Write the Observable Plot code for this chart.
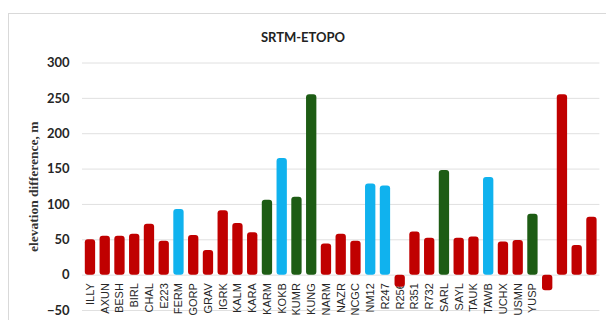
<!DOCTYPE html>
<html>
<head>
<meta charset="utf-8">
<script src="https://cdn.jsdelivr.net/npm/d3@7"></script>
<script src="https://cdn.jsdelivr.net/npm/@observablehq/plot@0.6"></script>
<style>
  html, body { margin: 0; padding: 0; background: #fff; }
  #wrap { position: relative; width: 606px; height: 320px; overflow: hidden; background: #fff; }
  #border { position: absolute; left: 8px; top: 13px; width: 700px; height: 400px;
            border-left: 1px solid #d9d9d9; border-top: 1px solid #d9d9d9; }
  #title { position: absolute; left: 0; top: 0; width: 606px; height: 50px; text-align: center;
           font-family: Lato, "Open Sans", sans-serif; font-weight: bold; font-size: 13px;
           color: #222; line-height: 74px; }
  #chart { position: absolute; left: 0; top: 50px; }
</style>
</head>
<body>
<div id="wrap">
  <div id="border"></div>
  <div id="title">SRTM-ETOPO</div>
  <div id="chart"></div>
</div>
<script>
const stations = ["ILLY","AXUN","BESH","BIRL","CHAL","E223","FERM","GORP","GRAV","IGRK","KALM","KARA","KARM","KOKB","KUMR","KUNG","NARM","NAZR","NCGC","NM12","R247","R256","R351","R732","SARL","SAYL","TAUK","TAWB","UCHX","USMN","YUSP","","","",""];
const values = [50,55,55,58,72,48,93,56,35,91,73,60,106,165,110,255,44,58,48,129,126,-17,61,52,148,52,54,138,47,49,86,-22,255,42,82];
const groups = ["r","r","r","r","r","r","b","r","r","r","r","r","g","b","g","g","r","r","r","b","b","r","r","r","g","r","r","b","r","r","g","r","r","r","r"];
const groupColors = {r: "#c00000", b: "#10b2ee", g: "#1d5c14"};
const yTicks = [-50, 0, 50, 100, 150, 200, 250, 300];
const yLabel = "elevation difference, m";

const data = values.map((v, i) => ({i, name: stations[i], value: v, group: groups[i]}));

const chart = Plot.plot({
  width: 606,
  height: 270,
  marginTop: 12.5,
  marginBottom: 10,
  marginLeft: 82,
  marginRight: 6.6,
  style: {fontFamily: "Lato, 'Open Sans', sans-serif", fontSize: "13px", fontWeight: "bold", color: "#262626", background: "transparent"},
  x: {type: "band", domain: d3.range(values.length), paddingInner: 0.3, paddingOuter: 0.19, round: false, axis: null},
  y: {domain: [-50, 300], ticks: yTicks, tickSize: 0, tickPadding: 13, label: null},
  color: {domain: Object.keys(groupColors), range: Object.values(groupColors)},
  marks: [
    Plot.ruleY(yTicks, {stroke: "#e0e0e0", strokeWidth: 1}),
    Plot.text(data, {x: "i", y: () => 0, text: "name", rotate: -90, textAnchor: "end", dy: 8,
      fontSize: 11, fontWeight: "normal", fontFamily: "'Liberation Sans', Arial, sans-serif", fill: "#262626"}),
    Plot.barY(data, {x: "i", y: "value", fill: "group", rx: 3}),
    Plot.text([yLabel], {frameAnchor: "left", textAnchor: "middle", dx: -49, rotate: -90, fontFamily: "'Liberation Serif', serif",
      fontWeight: "bold", fontSize: 13.5, fill: "#333"})
  ]
});
document.getElementById("chart").appendChild(chart);
</script>
</body>
</html>
